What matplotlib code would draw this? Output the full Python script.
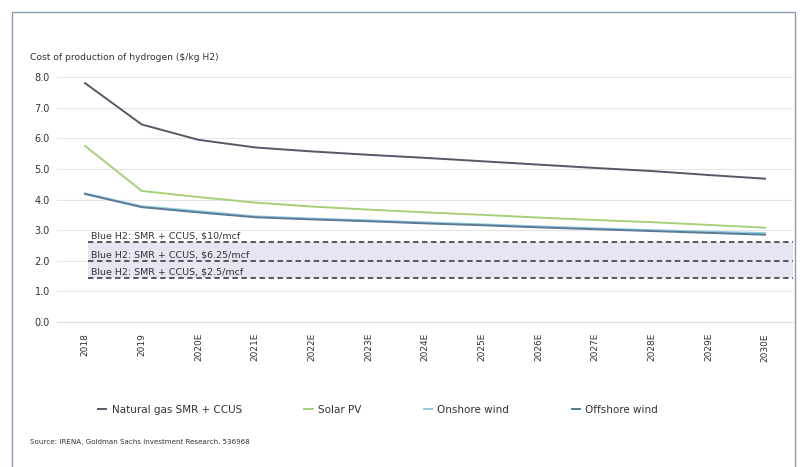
import matplotlib.pyplot as plt
from matplotlib.patches import Rectangle

years = ["2018", "2019", "2020E", "2021E", "2022E", "2023E", "2024E",
         "2025E", "2026E", "2027E", "2028E", "2029E", "2030E"]

natural_gas = [7.8, 6.45, 5.95, 5.7, 5.57, 5.46, 5.36, 5.25, 5.14, 5.03, 4.93, 4.8, 4.68]
solar_pv = [5.75, 4.28, 4.08, 3.9, 3.77, 3.67, 3.58, 3.5, 3.41, 3.33, 3.26, 3.17, 3.08]
onshore_wind = [4.2, 3.78, 3.62, 3.45, 3.38, 3.32, 3.25, 3.19, 3.12, 3.06, 3.0, 2.95, 2.9]
offshore_wind = [4.18, 3.75, 3.58, 3.42, 3.35, 3.29, 3.22, 3.16, 3.09, 3.03, 2.97, 2.91, 2.85]

blue_levels = [2.6, 2.0, 1.45]
blue_labels = ["Blue H2: SMR + CCUS, $10/mcf",
               "Blue H2: SMR + CCUS, $6.25/mcf",
               "Blue H2: SMR + CCUS, $2.5/mcf"]

fig = plt.figure(figsize=(8.08, 4.67), dpi=100)
fig.patches.append(Rectangle((12 / 808, -0.01), 783 / 808, 1 - 12 / 467 + 0.01,
                             transform=fig.transFigure, fill=False,
                             edgecolor="#8a9bb0", linewidth=1.0))

ax = fig.add_axes([0.0702, 0.3105, 0.9117, 0.5246])
x = list(range(len(years)))

# shaded band for blue hydrogen range
ax.fill_between([0.05, 12.5], min(blue_levels), max(blue_levels), color="#e6e6f2",
                zorder=0, linewidth=0)

for lvl, lab in zip(blue_levels, blue_labels):
    ax.plot([0.05, 12.5], [lvl, lvl], color="#4a4a55", linestyle=(0, (3, 2)),
            linewidth=1.3, zorder=2)
    ax.text(0.1, lvl + 0.05, lab, fontsize=6.8, color="#333333", va="bottom", ha="left",
            zorder=3)

ax.plot(x, natural_gas, color="#5c5566", linewidth=1.4, label="Natural gas SMR + CCUS")
ax.plot(x, solar_pv, color="#a6cf7a", linewidth=1.4, label="Solar PV")
ax.plot(x, onshore_wind, color="#8fcbe0", linewidth=1.4, label="Onshore wind")
ax.plot(x, offshore_wind, color="#5b7a96", linewidth=1.4, label="Offshore wind")

ax.set_xlim(-0.5, 12.5)
ax.set_ylim(0, 8)
ax.set_yticks([0, 1, 2, 3, 4, 5, 6, 7, 8])
ax.set_yticklabels([f"{v:.1f}" for v in range(9)], fontsize=7, color="#333333")
ax.set_xticks(x)
ax.set_xticklabels(years, rotation=90, fontsize=6.5, color="#333333")
ax.tick_params(axis="both", length=0, pad=8)
ax.grid(axis="y", color="#e6e6e6", linewidth=0.8)
ax.set_axisbelow(True)
for s in ["top", "right", "left"]:
    ax.spines[s].set_visible(False)
ax.spines["bottom"].set_color("#dddddd")
for lab in ax.get_yticklabels():
    lab.set_horizontalalignment("left")
ax.yaxis.set_tick_params(pad=16)

fig.text(30 / 808, 1 - 57 / 467, "Cost of production of hydrogen ($/kg H2)",
         fontsize=6.6, color="#333333", va="center")

fig.legend(loc="center", bbox_to_anchor=(378 / 808, 1 - 410 / 467), ncol=4, frameon=False,
           fontsize=7.5, handlelength=0.8, handletextpad=0.5, columnspacing=6,
           labelcolor="#333333")

fig.text(30 / 808, 1 - 442 / 467, "Source: IRENA, Goldman Sachs Investment Research. 536968",
         fontsize=5.1, color="#333333", va="center")

fig.savefig("out.png", dpi=100, facecolor="white")
